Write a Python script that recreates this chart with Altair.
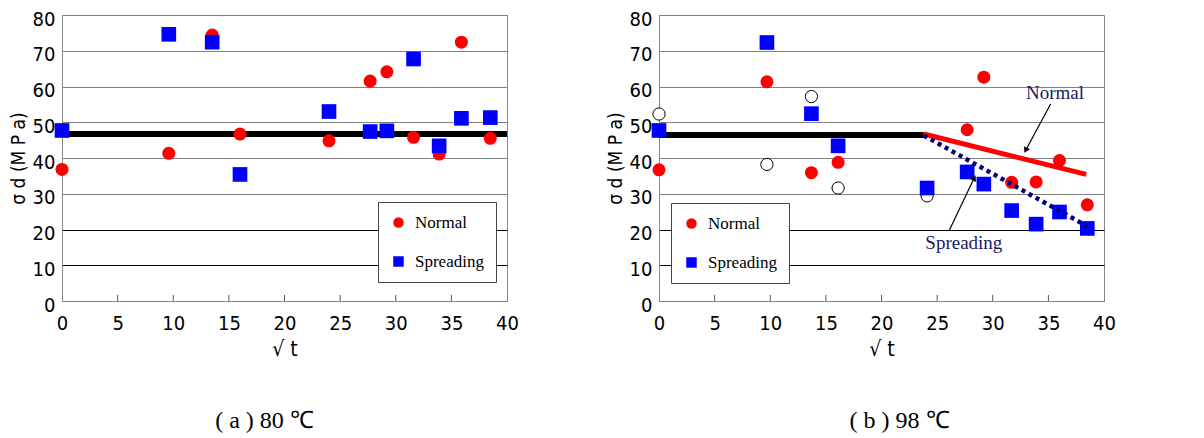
import altair as alt
import pandas as pd

# ---------------- data ----------------
series_names = ["Normal", "Spreading"]

# (a) 80 C
x_a = [0, 9.6, 13.5, 16.0, 24.0, 27.7, 29.2, 31.6, 33.9, 35.9, 38.5]
normal_a = [36.8, 41.3, 74.4, 46.7, 44.8, 61.5, 64.1, 45.8, 41.1, 72.4, 45.5]
spread_a = [47.7, 74.6, 72.4, 35.4, 53.0, 47.4, 47.6, 67.7, 43.4, 51.1, 51.3]
level_a_x = [0, 40]
level_a_y = [46.7, 46.7]

# (b) 98 C
x_b = [0, 9.7, 13.7, 16.1, 24.1, 27.7, 29.2, 31.7, 33.9, 36.0, 38.5]
normal_b = [36.7, 61.3, 35.9, 38.8, 31.7, 47.9, 62.6, 33.2, 33.3, 39.3, 26.9]
spread_b = [47.7, 72.3, 52.4, 43.4, 31.6, 36.1, 32.7, 25.3, 21.5, 24.9, 20.3]
open_x = [0, 9.7, 13.7, 16.1, 24.1]
open_y = [52.3, 38.2, 57.2, 31.6, 29.4]
level_b_x = [0, 23.8]
level_b_y = [46.4, 46.4]
trend_normal_x = [23.8, 38.4]
trend_normal_y = [46.7, 35.4]
trend_spread_x = [23.8, 38.5]
trend_spread_y = [46.3, 20.9]

# annotations (b)
ann_text = ["Normal", "Spreading"]
ann_x = [35.6, 27.4]
ann_y = [58.1, 16.3]
arrow_x = [35.2, 26.1]
arrow_y = [55.1, 19.8]
arrow_x2 = [33.0, 28.3]
arrow_y2 = [42.4, 34.2]
arrow_angle = [208, 25]

x_values = list(range(0, 41, 5))
y_values = list(range(0, 81, 10))
x_ticks = [5, 10, 15, 20, 25, 30, 35]
tick_len = [1.7] * len(x_ticks)
tick_base = [0] * len(x_ticks)

captions = ["( a ) 80 ℃", "( b ) 98 ℃"]

# ---------------- style ----------------
NARROW = "Liberation Sans Narrow, Arial Narrow, DejaVu Sans Condensed, sans-serif"
SERIF = "Liberation Serif, Times New Roman, serif"
W, H = 445, 286

xscale = alt.Scale(domain=[0, 40], nice=False, zero=False)
yscale = alt.Scale(domain=[0, 80], nice=False)

xaxis = alt.Axis(values=x_values, title="√  t", grid=False)
yaxis = alt.Axis(values=y_values, title="σ d (M P a)", grid=True,
                 gridColor=alt.condition("datum.value <= 20", alt.value("black"), alt.value("#808080")))


def X(f):
    return alt.X(f, scale=xscale, axis=xaxis)


def Y(f):
    return alt.Y(f, scale=yscale, axis=yaxis)


def legend_params(lx, ly):
    return alt.Legend(orient="none", legendX=lx, legendY=ly, title=None,
                      labelFont=SERIF, labelFontSize=17, labelColor="black",
                      symbolSize=110, rowPadding=21, padding=12, labelOffset=8,
                      strokeColor="#444", fillColor="white",
                      symbolStrokeWidth=0, symbolOpacity=1)


def points_df(xs, n, s):
    rows = [{"x": a, "y": b, "series": "Normal"} for a, b in zip(xs, n)]
    rows += [{"x": a, "y": b, "series": "Spreading"} for a, b in zip(xs, s)]
    return pd.DataFrame(rows)


def base_layers(xs, n, s, lx, ly, lev_x, lev_y):
    df = points_df(xs, n, s)
    pts = alt.Chart(df).mark_point(filled=True, opacity=1, strokeWidth=0).encode(
        x=X("x:Q"), y=Y("y:Q"),
        color=alt.Color("series:N", scale=alt.Scale(domain=series_names, range=["#ff0000", "#0000ff"]),
                        legend=legend_params(lx, ly)),
        shape=alt.Shape("series:N", scale=alt.Scale(domain=series_names, range=["circle", "square"]),
                        legend=legend_params(lx, ly)),
        size=alt.Size("series:N", scale=alt.Scale(domain=series_names, range=[170, 215]), legend=None),
    )
    ticks = alt.Chart(pd.DataFrame({"x": x_ticks, "y0": tick_base, "y2": tick_len})).mark_rule(
        color="#555", strokeWidth=1).encode(x=X("x:Q"), y=Y("y0:Q"), y2="y2:Q")
    level = alt.Chart(pd.DataFrame({"x": lev_x, "y": lev_y})).mark_line(
        color="black", strokeWidth=6).encode(x=X("x:Q"), y=Y("y:Q"))
    return pts, ticks, level


def caption(text, dx):
    return alt.TitleParams(text=text, orient="bottom", font=SERIF, fontSize=24,
                           fontWeight="normal", color="black", offset=50, dx=dx)


# panel (a)
pts_a, t_a, lev_a = base_layers(x_a, normal_a, spread_a, 316, 187, level_a_x, level_a_y)
left = alt.layer(t_a, lev_a, pts_a).properties(width=W, height=H, title=caption(captions[0], -20))

# panel (b)
pts_b, t_b, lev_b = base_layers(x_b, normal_b, spread_b, 12, 188, level_b_x, level_b_y)
opens = alt.Chart(pd.DataFrame({"x": open_x, "y": open_y})).mark_point(
    shape="circle", filled=False, fill="white", fillOpacity=1, stroke="black", strokeWidth=1,
    opacity=1, size=150).encode(x=X("x:Q"), y=Y("y:Q"))
red_line = alt.Chart(pd.DataFrame({"x": trend_normal_x, "y": trend_normal_y})).mark_line(
    color="#ff0000", strokeWidth=5).encode(x=X("x:Q"), y=Y("y:Q"))
navy_line = alt.Chart(pd.DataFrame({"x": trend_spread_x, "y": trend_spread_y})).mark_line(
    color="#000080", strokeWidth=4.5, strokeDash=[4, 4]).encode(x=X("x:Q"), y=Y("y:Q"))
ann_df = pd.DataFrame({"t": ann_text, "x": ann_x, "y": ann_y, "ax": arrow_x, "ay": arrow_y,
                       "ax2": arrow_x2, "ay2": arrow_y2, "ang": arrow_angle})
ann_txt = alt.Chart(ann_df).mark_text(font=SERIF, fontSize=19, color="#1a1a5e").encode(
    x=X("x:Q"), y=Y("y:Q"), text="t:N")
ann_rule = alt.Chart(ann_df).mark_rule(color="black", strokeWidth=1.2).encode(
    x=X("ax:Q"), y=Y("ay:Q"), x2="ax2:Q", y2="ay2:Q")
ann_head = alt.Chart(ann_df).mark_point(shape="triangle", filled=True, color="black",
                                        opacity=1, size=45).encode(
    x=X("ax2:Q"), y=Y("ay2:Q"), angle=alt.Angle("ang:Q", scale=None))

right = alt.layer(t_b, lev_b, opens, pts_b, red_line, navy_line, ann_rule, ann_head, ann_txt).properties(
    width=W, height=H, title=caption(captions[1], 18))

chart = alt.hconcat(left, right, spacing=152, bounds="flush").resolve_scale(
    color="independent", shape="independent"
).properties(
    padding=0, background="white"
).configure_axis(
    ticks=False, domainColor="#888", labelFont=NARROW, labelFontSize=20, labelColor="black",
    titleFont=NARROW, titleFontWeight="normal", titleColor="black", gridWidth=1,
    labelOverlap=False
).configure_axisX(
    labelPadding=12, labelFlush=False, titleFontSize=21, titlePadding=5
).configure_axisY(
    labelPadding=7, labelOffset=4, titleFontSize=19, titlePadding=4
).configure_view(
    stroke="#888", strokeWidth=1
)

chart.save("out.html", embed_options={"renderer": "svg", "actions": False})
